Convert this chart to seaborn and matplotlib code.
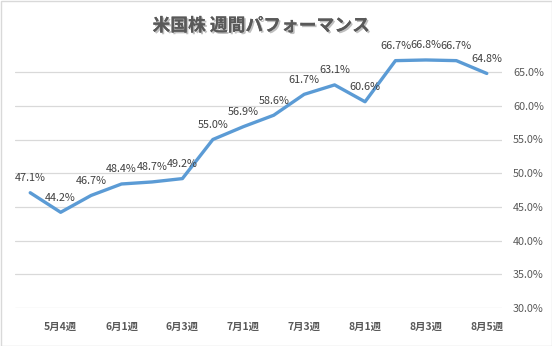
import matplotlib
matplotlib.use("Agg")
import matplotlib.pyplot as plt
import matplotlib.patheffects as pe
import seaborn as sns
import pandas as pd

weeks = ["5月3週", "5月4週", "5月5週", "6月1週", "6月2週", "6月3週", "6月4週", "7月1週",
         "7月2週", "7月3週", "7月4週", "8月1週", "8月2週", "8月3週", "8月4週", "8月5週"]
values = [47.1, 44.2, 46.7, 48.4, 48.7, 49.2, 55.0, 56.9,
          58.6, 61.7, 63.1, 60.6, 66.7, 66.8, 66.7, 64.8]
yticks = [30, 35, 40, 45, 50, 55, 60, 65]
title = "米国株 週間パフォーマンス"

sns.set_theme(style="white")
plt.rcParams['font.family'] = ['Noto Sans CJK JP', 'DejaVu Sans']

df = pd.DataFrame({"week": weeks, "value": values})

fig = plt.figure(figsize=(5.52, 3.46), dpi=100)
ax = fig.add_axes([15/552, 1 - 308/346, (502 - 15)/552, (308 - 38.4)/346])

sns.lineplot(data=df, x="week", y="value", ax=ax, sort=False,
             color="#5B9BD5", linewidth=2.4, zorder=3)

for i, v in enumerate(values):
    ax.annotate(f"{v:.1f}%", (i, v), xytext=(0, 7), textcoords="offset points",
                ha="center", va="bottom", fontsize=7.8, color="#404040")

ax.set_xlim(-0.5, len(weeks) - 0.5)
ax.set_ylim(30, 70)
ax.set_yticks(yticks)
ax.set_yticklabels([f"{t:.1f}%" for t in yticks], fontsize=7.8, color="#595959")
ax.yaxis.tick_right()
ax.tick_params(axis="y", length=0, pad=8)
xt = list(range(1, len(weeks), 2))
ax.set_xticks(xt)
ax.set_xticklabels([weeks[i] for i in xt], fontsize=7.5, color="#595959", fontweight="bold")
ax.tick_params(axis="x", length=0, pad=10)
ax.set_xlabel("")
ax.set_ylabel("")
ax.grid(axis="y", color="#d9d9d9", linewidth=0.9)
ax.grid(axis="x", visible=False)
for s in ax.spines.values():
    s.set_visible(False)

t = fig.text(261/552, 1 - 26/346, title, ha="center", va="center",
             fontsize=12.8, fontweight="bold", color="#595959")
t.set_path_effects([pe.withSimplePatchShadow(offset=(1.2, -1.2), shadow_rgbFace="#000000", alpha=0.25),
                    pe.Normal()])

border = plt.Rectangle((0.5/552, 0.5/346), 1 - 1/552, 1 - 1/346, transform=fig.transFigure,
                       fill=False, edgecolor="#d9d9d9", linewidth=1.0)
fig.patches.append(border)

fig.savefig("out.png", dpi=100)
